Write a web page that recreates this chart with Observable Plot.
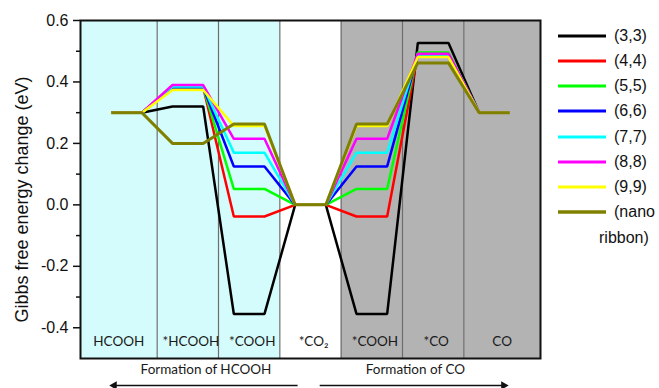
<!DOCTYPE html>
<html>
<head>
<meta charset="utf-8">
<script src="https://cdn.jsdelivr.net/npm/d3@7"></script>
<script src="https://cdn.jsdelivr.net/npm/@observablehq/plot@0.6"></script>
<style>
  html, body { margin: 0; padding: 0; background: white; }
  #wrap { position: relative; width: 659px; height: 388px; overflow: hidden; font-family: Arial, "Liberation Sans", sans-serif; }
  #legend { position: absolute; left: 0; top: 0; }
  .lg { position: absolute; display: flex; align-items: center; height: 20px; font-size: 16px; color: #111; white-space: nowrap; }
</style>
</head>
<body>
<div id="wrap"><div id="legend"></div></div>
<script>
// ---- data ----
const steps = ["HCOOH", "*HCOOH", "*COOH", "*CO\u2082", "*COOH", "*CO", "CO"];
const series = ["(3,3)", "(4,4)", "(5,5)", "(6,6)", "(7,7)", "(8,8)", "(9,9)", "(nano ribbon)"];
const colors = ["#000000", "#ff0000", "#00ff00", "#0000ff", "#00ffff", "#ff00ff", "#ffff00", "#808000"];
const v33 = [0.30, 0.320, -0.355, 0.0, -0.355, 0.527, 0.30];
const v44 = [0.30, 0.383, -0.038, 0.0, -0.038, 0.490, 0.30];
const v55 = [0.30, 0.383, 0.052, 0.0, 0.052, 0.496, 0.30];
const v66 = [0.30, 0.383, 0.125, 0.0, 0.125, 0.489, 0.30];
const v77 = [0.30, 0.385, 0.170, 0.0, 0.170, 0.489, 0.30];
const v88 = [0.30, 0.390, 0.215, 0.0, 0.215, 0.492, 0.30];
const v99 = [0.30, 0.374, 0.257, 0.0, 0.257, 0.481, 0.30];
const vNano = [0.30, 0.200, 0.263, 0.0, 0.263, 0.462, 0.30];
const seriesValues = [v33, v44, v55, v66, v77, v88, v99, vNano];
const regions = ["cyan", "cyan", "cyan", "white", "gray", "gray", "gray"];
const regionFill = {cyan: "#d4fcfc", white: "#ffffff", gray: "#b3b3b3"};
const yMajor = [-0.4, -0.2, 0.0, 0.2, 0.4, 0.6];
const yMinor = [-0.3, -0.1, 0.1, 0.3, 0.5];
const yLabel = "Gibbs free energy change (eV)";
const processes = [
  {label: "Formation of HCOOH", start: 0.23, from: 2.79, to: -0.20},
  {label: "Formation of CO", start: 3.90, from: 3.15, to: 6.15}
];

// ---- derived tables ----
const xDomain = [-0.75, steps.length - 0.25];
const yDomain = [-0.5, 0.6];
const half = 0.25; // half-width of each level
const cols = steps.map((s, i) => {
  const x1 = i === 0 ? xDomain[0] : i - 0.5;
  const x2 = i === steps.length - 1 ? xDomain[1] : i + 0.5;
  return {i, label: s, region: regions[i], x1, x2, mid: (x1 + x2) / 2 + (s.startsWith("*") ? 0.05 : 0)};
});
const seps = steps.slice(1).map((s, i) => i + 0.5);
function pathOf(vals) {
  const pts = [];
  vals.forEach((v, i) => { pts.push({x: i - half, y: v}); pts.push({x: i + half, y: v}); });
  return pts;
}

const lineMarks = series.map((s, k) =>
  Plot.line(pathOf(seriesValues[k]), {
    x: "x", y: "y", stroke: colors[k],
    strokeWidth: k === series.length - 1 ? 3 : 2.5,
    strokeLinejoin: "miter", strokeLinecap: "butt"
  })
);

const labelFont = "Lato, 'Open Sans', sans-serif";

const chart = Plot.plot({
  width: 659, height: 388,
  marginLeft: 80, marginRight: 119, marginTop: 20, marginBottom: 30,
  x: {domain: xDomain, axis: null},
  y: {domain: yDomain},
  style: {fontFamily: "Arial, 'Liberation Sans', sans-serif", fontSize: "16px", color: "#111", background: "white", overflow: "visible"},
  marks: [
    ...Object.keys(regionFill).map(r =>
      Plot.rect(cols.filter(c => c.region === r), {x1: "x1", x2: "x2", y1: yDomain[0], y2: yDomain[1], fill: regionFill[r]})
    ),
    Plot.ruleX(seps, {stroke: "#6e6e6e", strokeWidth: 1.2}),
    ...lineMarks,
    Plot.text(cols, {x: "mid", text: "label", frameAnchor: "bottom", dy: -12.5, fontFamily: labelFont, fontSize: 13.5, fill: "#1a1a1a"}),
    Plot.frame({stroke: "#111", strokeWidth: 2}),
    Plot.axisY({ticks: yMajor, tickSize: 7, tickPadding: 5, strokeWidth: 1.5, tickFormat: d => d.toFixed(1),
      fontSize: 16, label: null}),
    Plot.axisY({ticks: yMinor, tickSize: 4, strokeWidth: 1.5, tickFormat: () => "", label: null}),
    Plot.text([yLabel], {text: d => d, frameAnchor: "left", textAnchor: "middle", lineAnchor: "middle", rotate: -90, dx: -58, dy: 10, fontSize: 18, fill: "#111"}),
    Plot.text(processes, {x: "start", text: "label", textAnchor: "start", frameAnchor: "bottom", dy: 15, fontFamily: labelFont, fontSize: 13.5, fill: "#1a1a1a"}),
    Plot.link(processes, {x1: "from", x2: "to", y1: yDomain[0], y2: yDomain[0], dy: 27, stroke: "#111", strokeWidth: 1.5}),
    Plot.dot(processes, {x: "to", y: yDomain[0], dy: 27, symbol: "triangle", r: 3.2, fill: "#111", stroke: "none",
      rotate: d => d.to < d.from ? -90 : 90})
  ]
});
document.getElementById("wrap").prepend(chart);

// ---- legend ----
const legend = document.getElementById("legend");
series.forEach((s, k) => {
  const row = document.createElement("div");
  row.className = "lg";
  row.style.left = "558px";
  row.style.top = (35.7 + k * 25.2 - 10) + "px";
  const sw = document.createElementNS("http://www.w3.org/2000/svg", "svg");
  sw.setAttribute("width", 48); sw.setAttribute("height", 6);
  const ln = document.createElementNS("http://www.w3.org/2000/svg", "line");
  ln.setAttribute("x1", 0); ln.setAttribute("x2", 48); ln.setAttribute("y1", 3); ln.setAttribute("y2", 3);
  ln.setAttribute("stroke", colors[k]); ln.setAttribute("stroke-width", k === series.length - 1 ? 3.5 : 3);
  sw.appendChild(ln);
  row.appendChild(sw);
  const parts = s.split(" ");
  const t = document.createElement("span");
  t.style.marginLeft = "8px";
  t.textContent = parts[0];
  row.appendChild(t);
  legend.appendChild(row);
  if (parts.length > 1) {
    const row2 = document.createElement("div");
    row2.className = "lg";
    row2.style.left = "599px";
    row2.style.top = (35.7 + (k + 1) * 25.2 + 0.5 - 10) + "px";
    row2.textContent = parts.slice(1).join(" ");
    legend.appendChild(row2);
  }
});
</script>
</body>
</html>
